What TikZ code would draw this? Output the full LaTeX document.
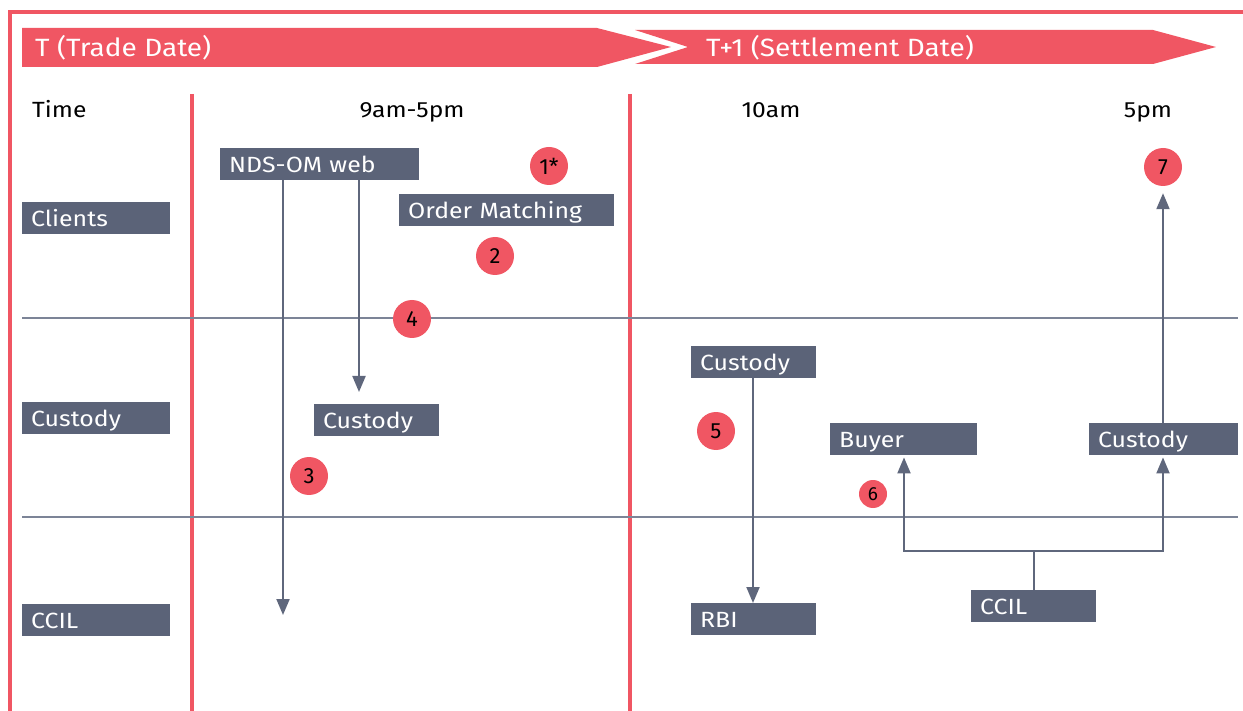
\documentclass[tikz,border=0pt]{standalone}
\usepackage{fontspec}
\setmainfont{Fira Sans}
\newfontfamily\widefont[FakeStretch=1.13]{Fira Sans}
\newfontfamily\hdrfont[FakeStretch=1.12]{Fira Sans}
\usetikzlibrary{arrows.meta}
\definecolor{redc}{HTML}{F05663}
\definecolor{boxc}{HTML}{5B6378}
\definecolor{linec}{HTML}{5F677C}
\definecolor{gridc}{HTML}{7C8497}
\tikzset{
  box/.style={fill=boxc, text=white, anchor=north west, align=left,
    inner xsep=9pt, inner ysep=0pt, minimum height=32pt,
    text height=18pt, text depth=2pt, font=\widefont\fontsize{22}{22}\selectfont},
  circ/.style={circle, fill=redc, inner sep=0pt, minimum size=38pt,
    text=black, font=\fontsize{22}{22}\selectfont},
  smallcirc/.style={circ, minimum size=28pt, font=\fontsize{19}{19}\selectfont},
  arr/.style={draw=linec, line width=2pt, -{Triangle[length=16pt,width=13pt]}},
  conn/.style={draw=linec, line width=2pt},
  grid/.style={draw=gridc, line width=1.4pt},
  redline/.style={draw=redc, line width=4pt},
  banner/.style={fill=redc},
  bannertext/.style={text=white, anchor=base west, inner sep=0pt,
    font=\hdrfont\fontsize{25}{25}\selectfont},
  hdr/.style={anchor=base, inner sep=0pt, font=\hdrfont\fontsize{22}{22}\selectfont},
}
\begin{document}
\begin{tikzpicture}[x=1pt,y=-1pt]
\useasboundingbox (0,0) rectangle (1243,711);
% frame
\draw[redline] (9.5,711) -- (9.5,12) -- (1243,12);
% banners
\fill[banner] (22,28) -- (597,28) -- (671,47) -- (597,67) -- (22,67) -- cycle;
\fill[banner] (635,30) -- (1153,30) -- (1216,47) -- (1153,64) -- (635,64) -- (688,47) -- cycle;
\node[bannertext] (tdate) at (35,57) {T (Trade Date)};
\node[bannertext] (sdate) at (706,57) {T+1 (Settlement Date)};
% header
\node[hdr, anchor=base west] (time) at (32,118) {Time};
\node[hdr] (h1) at (412,118) {9am-5pm};
\node[hdr] (h2) at (771,118) {10am};
\node[hdr] (h3) at (1148,118) {5pm};
% red dividers
\draw[redline] (191.5,94) -- (191.5,711);
\draw[redline] (629.5,94) -- (629.5,711);
% grid lines
\draw[grid] (22,318) -- (1238,318);
\draw[grid] (22,517) -- (1238,517);
% row labels
\node[box, text width=130pt] (clients) at (22,202) {Clients};
\node[box, text width=130pt] (custl) at (22,402) {Custody};
\node[box, text width=130pt] (ccill) at (22,604) {CCIL};
% trade date nodes
\node[box, text width=181pt] (nds) at (220,148) {NDS-OM web};
\node[box, text width=197pt] (om) at (399,194) {Order Matching};
\node[box, text width=107pt] (cust1) at (314,404) {Custody};
% settlement nodes
\node[box, text width=107pt] (cust2) at (691,346) {Custody};
\node[box, text width=107pt] (rbi) at (691,603) {RBI};
\node[box, text width=129pt] (buyer) at (830,423) {Buyer};
\node[box, text width=131pt] (cust3) at (1089,423) {Custody};
\node[box, text width=107pt] (ccil2) at (971,590) {CCIL};
% circles
\node[circ] (c1) at (549,166) {1*};
\node[circ] (c2) at (495,256) {2};
\node[circ] (c3) at (309,476) {3};
\node[circ] (c4) at (412,319) {4};
\node[circ] (c5) at (716,431) {5};
\node[smallcirc] (c6) at (873,494) {6};
\node[circ] (c7) at (1163,167) {7};
% connectors
\coordinate (e3) at (283,615);
\coordinate (x2) at (359,0);
\draw[arr] (nds.south -| e3) -- (e3);
\draw[arr, shorten >=12pt] (nds.south -| x2) -- (cust1.north -| x2);
\draw[arr] (cust2.south -| 753,0) -- (rbi.north -| 753,0);
\coordinate (j) at (1034,551);
\coordinate (jb) at (904,551);
\coordinate (jc) at (1163,551);
\draw[conn] (ccil2.north -| j) -- (j);
\draw[arr, shorten >=2pt] (j) -- (jb) -- (buyer.south -| jb);
\draw[arr, shorten >=2pt] (j) -- (jc) -- (cust3.south -| jc);
\draw[arr, shorten >=7pt] (cust3.north -| jc) -- (c7.south);
\end{tikzpicture}
\end{document}
